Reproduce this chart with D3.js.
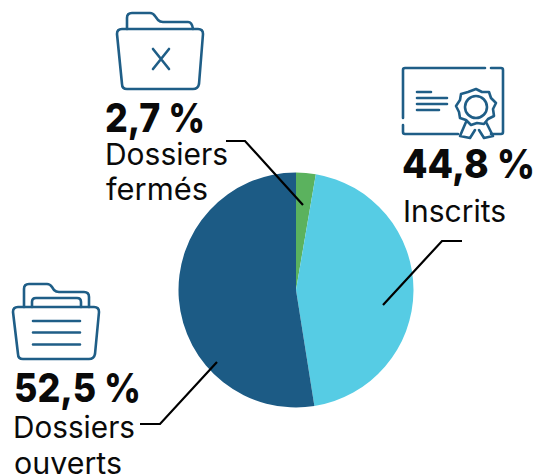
<!DOCTYPE html>
<html><head><meta charset="utf-8">
<script src="https://cdn.jsdelivr.net/npm/d3@7/dist/d3.min.js"></script>
<style>html,body{margin:0;padding:0;background:#fff;overflow:hidden}svg{display:block}text{font-family:Inter,"Open Sans",sans-serif;fill:#0a0a0a}</style>
</head><body><svg id="c" width="536" height="475"></svg>
<script>
const categories=["Dossiers fermés","Inscrits","Dossiers ouverts"];
const values=[2.7,44.8,52.5];
const percentLabels=["2,7 %","44,8 %","52,5 %"];
const labelLines=[["Dossiers","fermés"],["Inscrits"],["Dossiers","ouverts"]];
const colors=["#5BB25E","#56CCE4","#1C5B85"];

const svg=d3.select("#c");
const pie=d3.pie().sort(null).value(d=>d)(values);
const arc=d3.arc().innerRadius(0).outerRadius(117.5);
svg.append("g").attr("transform","translate(296,290)")
  .selectAll("path").data(pie).join("path").attr("d",arc).attr("fill",(d,i)=>colors[i]);

const leaders=[[[303,205],[245,141],[226,141]],[[383,305],[442,241],[462,241]],[[217,362],[160,424],[140,424]]];
svg.selectAll("path.l").data(leaders).join("path").attr("class","l")
  .attr("d",d3.line()).attr("fill","none").attr("stroke","#000").attr("stroke-width",2.2);

const pctPos=[[105,132,100],[402,178,133],[14,402,127]];
svg.selectAll("text.p").data(percentLabels).join("text").attr("class","p")
  .attr("x",(d,i)=>pctPos[i][0]).attr("y",(d,i)=>pctPos[i][1])
  .attr("textLength",(d,i)=>pctPos[i][2]).attr("lengthAdjust","spacingAndGlyphs")
  .attr("font-size",40).attr("font-weight",800).text(d=>d);

const linePos=[[[105,165,123],[106,200,102]],[[403,222,103]],[[13,438,122],[14,474,108]]];
labelLines.forEach((ls,i)=>ls.forEach((t,j)=>{
  const p=linePos[i][j];
  svg.append("text").attr("x",p[0]).attr("y",p[1]).attr("textLength",p[2]).attr("lengthAdjust","spacingAndGlyphs")
    .attr("font-size",30).attr("font-weight",400).text(t);
}));

const icon=svg.append("g").attr("fill","none").attr("stroke","#1F5E87").attr("stroke-width",2.6).attr("stroke-linecap","round").attr("stroke-linejoin","round");
[
 // closed folder with X
 "M122 29H198Q203 29 203 34L199 84Q198 89 193 89H127Q122 89 122 84L117 34Q117 29 122 29Z",
 "M127 29V18Q127 13 132 13H150Q153 13 155 16L158 20Q160 22 163 22H188Q192 22 193 29",
 "M153 49L169 69M169 49L153 69",
 // certificate
 "M485 68H405Q403 68 403 70V118M403 125V132Q403 134 405 134H458M491 134H501Q503 134 503 132V70Q503 68 501 68H491",
 "M417 92H431M417 98H447M417 104H447M417 110H439",
 "M476 89L482 92L489 92L491 98L496 103L493 109L494 116L488 119L484 124L477 123L471 125L466 120L460 118L459 112L456 106L460 100L461 94L468 92Z",
 "M466 122L460 136L470 138L475 130M486 122L493 136L484 138L479 130",
 // open folder
 "M18 307H94Q99 307 99 312L95 354Q94 359 89 359H23Q18 359 18 354L13 312Q13 307 18 307Z",
 "M24 307V289Q24 284 29 284H47Q50 284 52 287L54 290Q56 292 59 292H84Q89 292 89 297V307",
 "M32 307V302Q32 298 36 298H77Q81 298 81 302V307",
 "M33 321H80M33 332.5H80M33 344.5H80"
].forEach(d=>icon.append("path").attr("d",d));
icon.append("circle").attr("cx",476).attr("cy",107).attr("r",11);
</script></body></html>
